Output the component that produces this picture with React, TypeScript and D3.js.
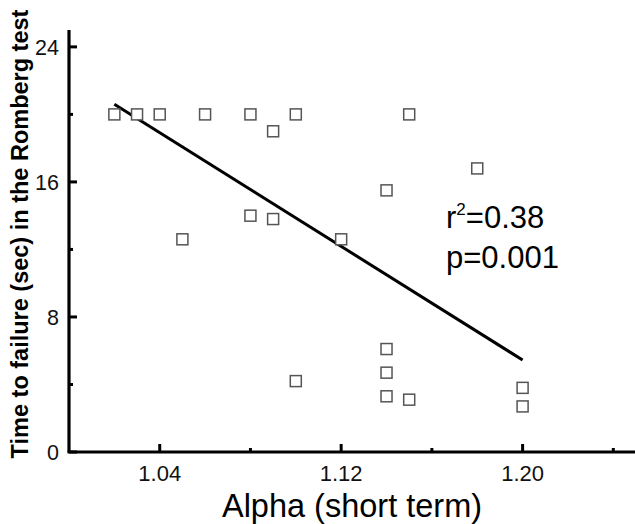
import React, { useEffect, useRef } from 'react';
import * as d3 from 'd3';

// alpha (short term) vs time to failure (sec)
const alphaValues = [1.02, 1.03, 1.04, 1.06, 1.08, 1.09, 1.10, 1.08, 1.09, 1.05, 1.15, 1.18, 1.14, 1.12, 1.10, 1.14, 1.14, 1.14, 1.15, 1.20, 1.20];
const failureTimes = [20, 20, 20, 20, 20, 19, 20, 14, 13.8, 12.6, 20, 16.8, 15.5, 12.6, 4.2, 6.1, 4.7, 3.3, 3.1, 3.8, 2.7];

// regression line end points
const fitAlpha = [1.02, 1.20];
const fitTime = [20.6, 5.45];

const xMajorTicks = [1.04, 1.12, 1.20];
const xMinorTicks = [1.08, 1.16, 1.24];
const yMajorTicks = [0, 8, 16, 24];
const yMinorTicks = [4, 12, 20];

const W = 635;
const H = 524;
const FONT = 'Arial, "Liberation Sans", sans-serif';

export default function App() {
  const ref = useRef<SVGSVGElement>(null);

  useEffect(() => {
    const svg = d3.select(ref.current);
    svg.selectAll('*').remove();

    const x = d3.scaleLinear().domain([1.0, 1.25]).range([69, 636]);
    const y = d3.scaleLinear().domain([0, 25]).range([452, 30]);

    const g = svg.append('g');

    // axes lines
    g.append('line')
      .attr('x1', x(1.0) - 1.5).attr('x2', x(1.25))
      .attr('y1', y(0)).attr('y2', y(0))
      .attr('stroke', '#000').attr('stroke-width', 3.2);
    g.append('line')
      .attr('x1', x(1.0)).attr('x2', x(1.0))
      .attr('y1', y(0)).attr('y2', y(25))
      .attr('stroke', '#000').attr('stroke-width', 3.2);

    // ticks (pointing inward)
    g.selectAll('.xmaj').data(xMajorTicks).enter().append('line')
      .attr('x1', d => x(d)).attr('x2', d => x(d))
      .attr('y1', y(0)).attr('y2', y(0) - 8)
      .attr('stroke', '#000').attr('stroke-width', 3);
    g.selectAll('.xmin').data(xMinorTicks).enter().append('line')
      .attr('x1', d => x(d)).attr('x2', d => x(d))
      .attr('y1', y(0)).attr('y2', y(0) - 4)
      .attr('stroke', '#000').attr('stroke-width', 3);
    g.selectAll('.ymaj').data(yMajorTicks).enter().append('line')
      .attr('x1', x(1.0)).attr('x2', x(1.0) + 8)
      .attr('y1', d => y(d)).attr('y2', d => y(d))
      .attr('stroke', '#000').attr('stroke-width', 3);
    g.selectAll('.ymin').data(yMinorTicks).enter().append('line')
      .attr('x1', x(1.0)).attr('x2', x(1.0) + 4)
      .attr('y1', d => y(d)).attr('y2', d => y(d))
      .attr('stroke', '#000').attr('stroke-width', 3);

    // tick labels
    g.selectAll('.xlab').data(xMajorTicks).enter().append('text')
      .attr('x', d => x(d)).attr('y', y(0) + 29)
      .attr('text-anchor', 'middle')
      .attr('font-family', FONT).attr('font-size', 22)
      .attr('fill', '#111')
      .text(d => d.toFixed(2));
    g.selectAll('.ylab').data(yMajorTicks).enter().append('text')
      .attr('x', x(1.0) - 10).attr('y', d => y(d) + 8)
      .attr('text-anchor', 'end')
      .attr('font-family', FONT).attr('font-size', 21.5)
      .attr('fill', '#111')
      .text(d => String(d));

    // axis titles
    g.append('text')
      .attr('x', 352).attr('y', 517)
      .attr('text-anchor', 'middle')
      .attr('font-family', FONT).attr('font-size', 32.5)
      .attr('fill', '#000')
      .text('Alpha (short term)');
    g.append('text')
      .attr('transform', 'translate(28,234) rotate(-90)')
      .attr('text-anchor', 'middle')
      .attr('font-family', FONT).attr('font-size', 23.5)
      .attr('font-weight', 'bold')
      .attr('fill', '#000')
      .text('Time to failure (sec) in the Romberg test');

    // regression line
    const line = d3.line<number>()
      .x((_, i) => x(fitAlpha[i]))
      .y(d => y(d));
    g.append('path')
      .attr('d', line(fitTime))
      .attr('fill', 'none')
      .attr('stroke', '#000')
      .attr('stroke-width', 3);

    // points
    const s = 11;
    g.selectAll('.pt').data(alphaValues).enter().append('rect')
      .attr('x', d => x(d) - s / 2)
      .attr('y', (_, i) => y(failureTimes[i]) - s / 2)
      .attr('width', s).attr('height', s)
      .attr('fill', '#fff')
      .attr('stroke', '#555')
      .attr('stroke-width', 1.5);

    // stats annotation
    const r2 = g.append('text')
      .attr('x', 446).attr('y', 228)
      .attr('font-family', FONT).attr('font-size', 31)
      .attr('fill', '#000');
    r2.append('tspan').text('r');
    r2.append('tspan').attr('dy', -13).attr('font-size', 17).text('2');
    r2.append('tspan').attr('dy', 13).text('=0.38');
    g.append('text')
      .attr('x', 446).attr('y', 268)
      .attr('font-family', FONT).attr('font-size', 31)
      .attr('fill', '#000')
      .text('p=0.001');
  }, []);

  return (
    <svg ref={ref} width={W} height={H}
      style={{ position: 'absolute', left: 0, top: 0, background: '#fff' }} />
  );
}
